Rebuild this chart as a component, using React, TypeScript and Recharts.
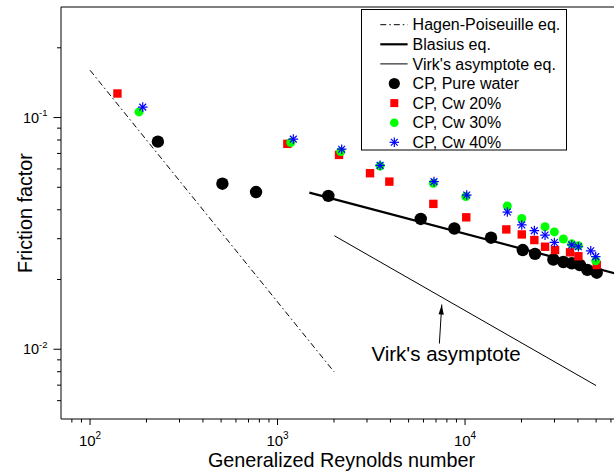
import React from 'react';
import {
  ComposedChart,
  XAxis,
  YAxis,
  Scatter,
  Line,
  ReferenceLine,
  ReferenceDot,
  Legend,
} from 'recharts';

const FONT = '"Liberation Sans", Arial, Helvetica, sans-serif';

// ---- data (Re, friction factor) ----
const pureWater = [
  { x: 230, y: 0.0787 },
  { x: 508, y: 0.0518 },
  { x: 768, y: 0.0477 },
  { x: 1866, y: 0.0459 },
  { x: 5803, y: 0.0365 },
  { x: 8770, y: 0.0332 },
  { x: 13760, y: 0.0303 },
  { x: 20310, y: 0.0268 },
  { x: 23620, y: 0.0258 },
  { x: 29580, y: 0.0244 },
  { x: 33450, y: 0.0238 },
  { x: 37070, y: 0.0235 },
  { x: 40950, y: 0.0231 },
  { x: 44900, y: 0.022 },
  { x: 50400, y: 0.0214 },
];

const cw20 = [
  { x: 140, y: 0.127 },
  { x: 1128, y: 0.077 },
  { x: 2128, y: 0.069 },
  { x: 3113, y: 0.0575 },
  { x: 3948, y: 0.0529 },
  { x: 6776, y: 0.0424 },
  { x: 10150, y: 0.0371 },
  { x: 16600, y: 0.0329 },
  { x: 20070, y: 0.0313 },
  { x: 23420, y: 0.0296 },
  { x: 26710, y: 0.0277 },
  { x: 30200, y: 0.0268 },
  { x: 36310, y: 0.0262 },
  { x: 40220, y: 0.0252 },
  { x: 50400, y: 0.0231 },
];

const cw30 = [
  { x: 182.5, y: 0.1058 },
  { x: 1176, y: 0.078 },
  { x: 2173, y: 0.0713 },
  { x: 3522, y: 0.0618 },
  { x: 6776, y: 0.052 },
  { x: 10086, y: 0.0456 },
  { x: 16810, y: 0.0415 },
  { x: 20070, y: 0.0367 },
  { x: 26710, y: 0.0338 },
  { x: 29950, y: 0.0321 },
  { x: 33450, y: 0.0299 },
  { x: 37070, y: 0.0285 },
  { x: 40220, y: 0.028 },
  { x: 49770, y: 0.0241 },
];

const cw40 = [
  { x: 191, y: 0.1109 },
  { x: 1214, y: 0.0807 },
  { x: 2198, y: 0.073 },
  { x: 3522, y: 0.0622 },
  { x: 6830, y: 0.0529 },
  { x: 10210, y: 0.0463 },
  { x: 16810, y: 0.0391 },
  { x: 20070, y: 0.0344 },
  { x: 23420, y: 0.0325 },
  { x: 26710, y: 0.0311 },
  { x: 29950, y: 0.0289 },
  { x: 37070, y: 0.0282 },
  { x: 40220, y: 0.0277 },
  { x: 46810, y: 0.0266 },
  { x: 49770, y: 0.0251 },
];

const hagenPoiseuille = [
  { x: 100, y: 0.16 },
  { x: 2000, y: 0.008 },
];
const blasius = [
  { x: 1478, y: 0.0474 },
  { x: 70000, y: 0.0208 },
];
const virk = [
  { x: 2009, y: 0.0309 },
  { x: 50000, y: 0.00697 },
];
const virkArrow = [
  { x: 7295, y: 0.01058 },
  { x: 7515, y: 0.0156 },
];
const virkLabel = { x: 7925, y: 0.00887, text: "Virk's asymptote" };

// ---- axes ----
const xDomain = [70, 70000];
const yDomain = [0.005, 0.3];
const xMajor = [100, 1000, 10000];
const xMajorExp = ['2', '3', '4'];
const xMinor = [
  80, 90, 200, 300, 400, 500, 600, 700, 800, 900, 2000, 3000, 4000, 5000, 6000,
  7000, 8000, 9000, 20000, 30000, 40000, 50000, 60000,
];
const yMajor = [0.01, 0.1];
const yMajorExp = ['-2', '-1'];
const yMinor = [
  0.006, 0.007, 0.008, 0.009, 0.02, 0.03, 0.04, 0.05, 0.06, 0.07, 0.08, 0.09, 0.2,
];
const xTicks = [...xMajor, ...xMinor].sort((a, b) => a - b);
const yTicks = [...yMajor, ...yMinor].sort((a, b) => a - b);

const xTitle = 'Generalized Reynolds number';
const yTitle = 'Friction factor';

const legendNames = [
  'Hagen-Poiseuille eq.',
  'Blasius eq.',
  "Virk's asymptote eq.",
  'CP, Pure water',
  'CP, Cw 20%',
  'CP, Cw 30%',
  'CP, Cw 40%',
];

// ---- marker shapes ----
const BlackDot = (p: any) => <circle cx={p.cx} cy={p.cy} r={6.2} fill="#000" />;
const RedSquare = (p: any) => (
  <rect x={p.cx - 4.2} y={p.cy - 4.2} width={8.4} height={8.4} fill="#ff0000" />
);
const GreenDot = (p: any) => <circle cx={p.cx} cy={p.cy} r={4.5} fill="#00ff00" />;
const BlueStar = (p: any) => {
  const { cx, cy } = p;
  const a = 4.8;
  const d = 3.4;
  return (
    <g stroke="#0000ff" strokeWidth={1.2}>
      <line x1={cx - a} y1={cy} x2={cx + a} y2={cy} />
      <line x1={cx} y1={cy - a} x2={cx} y2={cy + a} />
      <line x1={cx - d} y1={cy - d} x2={cx + d} y2={cy + d} />
      <line x1={cx - d} y1={cy + d} x2={cx + d} y2={cy - d} />
    </g>
  );
};

const XTick = (props: any) => {
  const { x, y, payload } = props;
  const i = xMajor.indexOf(payload.value);
  if (i >= 0) {
    return (
      <g>
        <line x1={x} x2={x} y1={y} y2={y + 6} stroke="#000" strokeWidth={1} />
        <text x={x} y={y + 27} textAnchor="middle" fontFamily={FONT} fontSize={15} fill="#000">
          <tspan>10</tspan>
          <tspan dy={-7.5} fontSize={10}>
            {xMajorExp[i]}
          </tspan>
        </text>
      </g>
    );
  }
  return <line x1={x} x2={x} y1={y} y2={y + 3.5} stroke="#000" strokeWidth={1} />;
};

const YTick = (props: any) => {
  const { x, y, payload } = props;
  const i = yMajor.findIndex((v) => Math.abs(v - payload.value) < 1e-9);
  if (i >= 0) {
    return (
      <g>
        <line x1={x - 7.5} x2={x} y1={y} y2={y} stroke="#000" strokeWidth={1} />
        <text x={x - 13.5} y={y + 5.2} textAnchor="end" fontFamily={FONT} fontSize={14.5} fill="#000">
          <tspan>10</tspan>
          <tspan dy={-6.5} fontSize={9.5}>
            {yMajorExp[i]}
          </tspan>
        </text>
      </g>
    );
  }
  return <line x1={x - 4} x2={x} y1={y} y2={y} stroke="#000" strokeWidth={1} />;
};

const ArrowDot = (props: any) => {
  const { cx, cy, index, points } = props;
  if (index !== 1) return <g />;
  let ang = -Math.PI / 2;
  if (points && points.length > 1) {
    ang = Math.atan2(points[1].y - points[0].y, points[1].x - points[0].x);
  }
  const L = 10;
  const W = 2.6;
  const bx = cx - L * Math.cos(ang);
  const by = cy - L * Math.sin(ang);
  const px = -Math.sin(ang) * W;
  const py = Math.cos(ang) * W;
  return (
    <polygon
      points={`${cx},${cy} ${bx + px},${by + py} ${bx - px},${by - py}`}
      fill="#000"
    />
  );
};

const LegendBox = () => {
  const rowY = (i: number) => 15.7 + i * 19.6;
  const lx1 = 19.3;
  const lx2 = 46.6;
  const mx = 33.3;
  const tx = 51.6;
  return (
    <svg width={206} height={142} style={{ display: 'block', background: '#fff' }}>
      <rect x={0.5} y={0.5} width={205} height={140.5} fill="#fff" stroke="#000" strokeWidth={1} />
      <line x1={lx1} x2={lx2} y1={rowY(0)} y2={rowY(0)} stroke="#000" strokeWidth={1} strokeDasharray="6 3 1.5 3" />
      <line x1={lx1} x2={lx2} y1={rowY(1)} y2={rowY(1)} stroke="#000" strokeWidth={2.2} />
      <line x1={lx1} x2={lx2} y1={rowY(2)} y2={rowY(2)} stroke="#000" strokeWidth={1} />
      <circle cx={mx} cy={rowY(3)} r={5.6} fill="#000" />
      <rect x={mx - 4} y={rowY(4) - 4} width={8} height={8} fill="#ff0000" />
      <circle cx={mx} cy={rowY(5)} r={4.3} fill="#00ff00" />
      <BlueStar cx={mx} cy={rowY(6)} />
      {legendNames.map((n, i) => (
        <text key={n} x={tx} y={rowY(i) + 5.7} fontFamily={FONT} fontSize={16} fill="#000">
          {n}
        </text>
      ))}
    </svg>
  );
};

export default function App() {
  return (
    <div
      style={{
        position: 'absolute',
        left: 0,
        top: 0,
        width: 614,
        height: 473,
        overflow: 'hidden',
        background: '#fff',
      }}
    >
      <ComposedChart
        width={700}
        height={473}
        margin={{ top: 7, right: 76.5, left: 0, bottom: 0 }}
      >
        <XAxis
          dataKey="x"
          type="number"
          scale="log"
          domain={xDomain}
          allowDataOverflow
          ticks={xTicks}
          interval={0}
          tick={<XTick />}
          tickLine={false}
          tickSize={0}
          tickMargin={0}
          axisLine={{ stroke: '#000', strokeWidth: 1 }}
          height={54}
          label={{
            content: () => (
              <text x={341.5} y={467} textAnchor="middle" fontFamily={FONT} fontSize={19.8} fill="#000">
                {xTitle}
              </text>
            ),
          }}
        />
        <YAxis
          dataKey="y"
          type="number"
          scale="log"
          domain={yDomain}
          allowDataOverflow
          ticks={yTicks}
          interval={0}
          tick={<YTick />}
          tickLine={false}
          tickSize={0}
          tickMargin={0}
          axisLine={{ stroke: '#000', strokeWidth: 1 }}
          width={61}
          label={{
            content: () => (
              <text
                transform="translate(32,213) rotate(-90)"
                textAnchor="middle"
                fontFamily={FONT}
                fontSize={19.8}
                fill="#000"
              >
                {yTitle}
              </text>
            ),
          }}
        />
        <ReferenceLine y={0.3} stroke="#000" strokeWidth={1} ifOverflow="visible" />
        <Line
          data={hagenPoiseuille}
          dataKey="y"
          type="linear"
          stroke="#000"
          strokeWidth={1}
          strokeDasharray="6 3 1.5 3"
          dot={false}
          activeDot={false}
          isAnimationActive={false}
        />
        <Line
          data={blasius}
          dataKey="y"
          type="linear"
          stroke="#000"
          strokeWidth={2.2}
          dot={false}
          activeDot={false}
          isAnimationActive={false}
        />
        <Line
          data={virk}
          dataKey="y"
          type="linear"
          stroke="#000"
          strokeWidth={1}
          dot={false}
          activeDot={false}
          isAnimationActive={false}
        />
        <Line
          data={virkArrow}
          dataKey="y"
          type="linear"
          stroke="#000"
          strokeWidth={1}
          dot={<ArrowDot />}
          activeDot={false}
          isAnimationActive={false}
        />
        <ReferenceDot
          x={virkLabel.x}
          y={virkLabel.y}
          r={0}
          shape={(p: any) => (
            <text x={p.cx} y={p.cy} textAnchor="middle" fontFamily={FONT} fontSize={20.5} fill="#000">
              {virkLabel.text}
            </text>
          )}
        />
        <Scatter data={pureWater} dataKey="y" shape={BlackDot} isAnimationActive={false} />
        <Scatter data={cw20} dataKey="y" shape={RedSquare} isAnimationActive={false} />
        <Scatter data={cw30} dataKey="y" shape={GreenDot} isAnimationActive={false} />
        <Scatter data={cw40} dataKey="y" shape={BlueStar} isAnimationActive={false} />
        <Legend
          content={<LegendBox />}
          verticalAlign="middle"
          align="center"
          layout="horizontal"
          wrapperStyle={{ position: 'absolute', left: 361, top: 9, width: 206, height: 142 }}
        />
      </ComposedChart>
    </div>
  );
}
